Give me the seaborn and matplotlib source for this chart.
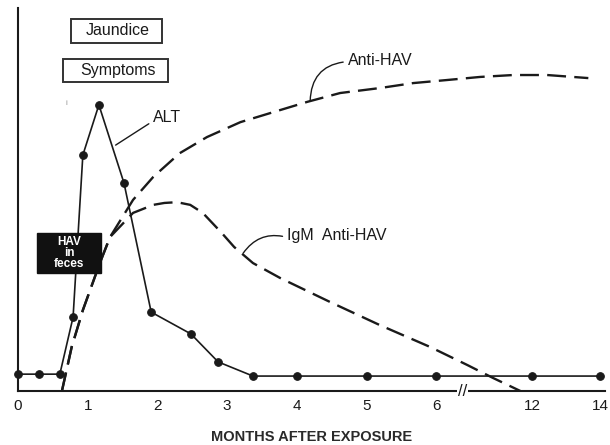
import numpy as np
import matplotlib
matplotlib.use("Agg")
import matplotlib.pyplot as plt
from matplotlib.patches import Rectangle
import seaborn as sns

# values (months after exposure, relative level 0-100)
alt_months = [0, 0.3, 0.6, 0.79, 0.93, 1.16, 1.52, 1.91, 2.48, 2.87, 3.37, 4, 5, 6, 12, 14]
alt_values = [4.4, 4.4, 4.4, 19.3, 61.6, 74.7, 54.3, 20.6, 14.9, 7.6, 3.9, 3.9, 3.9, 3.9, 3.9, 3.9]

anti_months = [0.63, 0.77, 0.93, 1.18, 1.32, 1.65, 1.94, 2.32, 2.71, 3.19, 3.66, 4.15, 4.62,
               5.19, 5.67, 6.68, 8.74, 10.81, 12.44, 13.65]
anti_values = [0, 11.5, 21.1, 33.7, 40.2, 49.9, 55.9, 62.1, 66.3, 70.2, 72.8, 75.5, 77.8,
               79.1, 80.4, 81.2, 82.0, 82.5, 82.5, 81.7]

igm_months = [0.63, 0.77, 0.93, 1.18, 1.32, 1.65, 1.94, 2.1, 2.28, 2.47, 2.65, 2.92, 3.1,
              3.37, 3.76, 4.48, 5.19, 5.91, 7.93, 9.55, 11.26]
igm_values = [0, 11.5, 21.1, 33.7, 40.2, 46.5, 48.6, 49.1, 49.3, 48.6, 46.5, 41.3, 37.6,
              33.4, 29.5, 23.2, 17.2, 11.5, 6.8, 3.4, 0]

tick_months = [0, 1, 2, 3, 4, 5, 6, 12, 14]
tick_labels = ["0", "1", "2", "3", "4", "5", "6", "12", "14"]

# broken time axis: 6 -> 12 months squeezed, 12 -> 14 at half scale
S1, P12, S2 = 0.229, 7.374, 0.488


def forward(m):
    m = np.asarray(m, dtype=float)
    return np.where(m <= 6, m, np.where(m <= 12, 6 + (m - 6) * S1, P12 + (m - 12) * S2))


def inverse(p):
    p = np.asarray(p, dtype=float)
    return np.where(p <= 6, p, np.where(p <= P12, 6 + (p - 6) / S1, 12 + (p - P12) / S2))


sns.set_style("white")
plt.rcParams["font.family"] = ["Liberation Sans", "DejaVu Sans"]
ink = "#1a1a1a"

fig = plt.figure(figsize=(6.1, 4.45), dpi=100)
ax = fig.add_axes([18 / 610, 1 - 391 / 445, 587 / 610, 383 / 445])
ax.set_xscale("function", functions=(forward, inverse))

sns.lineplot(x=anti_months, y=anti_values, ax=ax, color=ink, linewidth=1.7,
             linestyle=(0, (8, 3.5)), estimator=None, sort=False)
sns.lineplot(x=igm_months, y=igm_values, ax=ax, color=ink, linewidth=1.7,
             linestyle=(0, (8, 3.5)), estimator=None, sort=False)
sns.lineplot(x=alt_months, y=alt_values, ax=ax, color=ink, linewidth=1.2,
             marker="o", markersize=5.5, markeredgecolor=ink, estimator=None,
             sort=False, clip_on=False)

ax.set_xlim(0, 14.14)
ax.set_ylim(0, 100)
ax.set_xticks(tick_months)
ax.set_xticklabels(tick_labels)
ax.set_yticks([])
ax.tick_params(axis="x", direction="in", length=6, width=1.2, color=ink,
               labelsize=11, labelcolor=ink, pad=6)
for s in ["top", "right"]:
    ax.spines[s].set_visible(False)
for s in ["left", "bottom"]:
    ax.spines[s].set_color(ink)
    ax.spines[s].set_linewidth(1.5)

ax.set_xlabel("MONTHS AFTER EXPOSURE", fontsize=10.5, fontweight="bold",
              color="#2a2a2a", labelpad=12)

# axis break mark
ax.text(7.62, 0, "//", ha="center", va="center", fontsize=12, color=ink,
        clip_on=False, zorder=5,
        bbox=dict(facecolor="white", edgecolor="none", pad=0.5))

# boxes
ax.add_patch(Rectangle((0.76, 90.9), 1.31, 6.2, fill=False, edgecolor="#333333", lw=1.4, clip_on=False))
ax.text(1.43, 94, "Jaundice", ha="center", va="center", fontsize=11.5, color=ink)
ax.add_patch(Rectangle((0.65, 80.7), 1.5, 6.0, fill=False, edgecolor="#333333", lw=1.4))
ax.text(1.44, 83.6, "Symptoms", ha="center", va="center", fontsize=11.5, color=ink)
ax.text(0.7, 75, "i", ha="center", va="center", fontsize=6, color="#999999")

ax.add_patch(Rectangle((0.27, 30.8), 0.92, 10.4, facecolor="#111111", edgecolor="#111111", zorder=4))
ax.text(0.73, 36, "HAV\nin\nfeces", ha="center", va="center", fontsize=8.5,
        fontweight="bold", color="white", linespacing=0.85, zorder=5)

# series labels with leader lines
ax.annotate("ALT", xy=(1.4, 64.2), xytext=(1.94, 71.5), ha="left", va="center",
            fontsize=11.5, color=ink,
            arrowprops=dict(arrowstyle="-", color=ink, lw=1, shrinkA=1, shrinkB=0,
                            relpos=(0, 0.25)))
ax.annotate("Anti-HAV", xy=(4.19, 75.7), xytext=(4.73, 86.4), ha="left", va="center",
            fontsize=11.5, color=ink,
            arrowprops=dict(arrowstyle="-", color=ink, lw=1, shrinkA=1, shrinkB=0,
                            relpos=(0, 0.4), connectionstyle="arc3,rad=0.45"))
ax.annotate("IgM  Anti-HAV", xy=(3.23, 36.0), xytext=(3.86, 40.5), ha="left", va="center",
            fontsize=11.5, color=ink,
            arrowprops=dict(arrowstyle="-", color=ink, lw=1, shrinkA=1, shrinkB=0,
                            relpos=(0, 0.4), connectionstyle="arc3,rad=0.35"))

fig.savefig("out.png", dpi=100, facecolor="white")
